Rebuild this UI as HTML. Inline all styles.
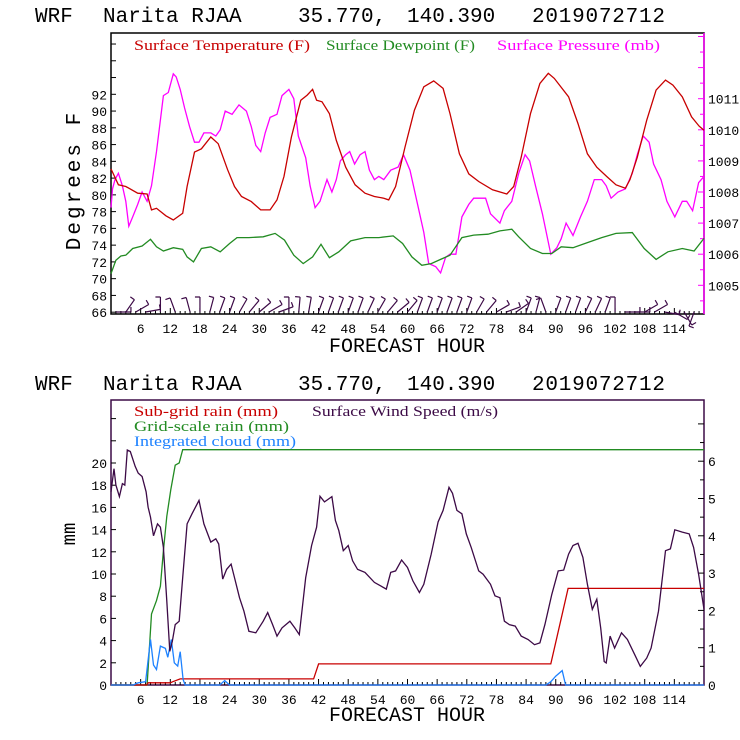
<!DOCTYPE html>
<html><head><meta charset="utf-8"><style>
html,body{margin:0;padding:0;background:#fff;}
svg{display:block;font-family:"Liberation Mono",monospace;}
</style></head><body>
<svg id="c" width="740" height="740" viewBox="0 0 740 740" xmlns="http://www.w3.org/2000/svg">
<g font-size="21" fill="#000">
<text x="35" y="22">WRF</text><text x="103" y="22">Narita RJAA</text><text x="298" y="22">35.770,</text><text x="407" y="22">140.390</text><text x="532" y="22" textLength="133" lengthAdjust="spacing">2019072712</text>
</g>
<g font-size="21" fill="#000">
<text x="35" y="390">WRF</text><text x="103" y="390">Narita RJAA</text><text x="298" y="390">35.770,</text><text x="407" y="390">140.390</text><text x="532" y="390" textLength="133" lengthAdjust="spacing">2019072712</text>
</g>
<g id="topPanel"></g>
<g id="botPanel"></g>
</svg>
<script>
// ---- top chart data ----
const tempHours=[0,1.5,3,5.4,7.3,8.2,9.2,11.1,12.6,14.5,15.4,16.9,18.3,20.2,21.7,23.6,25,26.4,28.4,30.3,32.2,33.6,35,36.5,38.4,39.7,40.8,41.6,42.7,44.2,45.6,47.5,49.4,51.4,53.3,55.2,56.2,57.6,59.5,61.4,63.3,65.3,67.2,68.6,70.5,72.4,74.4,77.2,80.1,81.5,83,84.9,86.8,88.5,89.7,92.6,94.5,96.4,98.3,100.3,102.2,104.1,105,106.5,108.4,110.3,112.2,113.7,115.6,117.5,119,120];
const tempValues=[83.1,81.2,81,80.2,80.1,78.2,78.4,77.5,77,77.8,81,85.1,85.5,86.9,86.1,83,81,79.8,79.2,78.2,78.2,79.4,82.2,86.9,91.3,91.9,92.6,91.3,91.1,89.7,86.5,83.3,81.2,80.2,79.8,79.6,79.4,81,85.7,90.1,92.9,93.6,92.7,89.7,84.9,82.5,81.6,80.6,80.1,81,84.5,89.7,93.3,94.5,93.9,91.7,88.5,84.9,83.3,82.2,81.2,80.8,81.8,84.5,88.9,92.5,93.7,93.1,91.7,89.3,88.2,87.7];
const dewHours=[0,1,2,3,4.4,6.3,8,9.2,10.6,12.6,14.5,15.4,16.7,18.3,20.2,22.1,24,25.5,27.9,30.8,33.2,35.1,37,38.9,40.8,42.5,44.2,46.1,48.5,51.4,54.2,57.1,59,60.9,62.9,64.8,66.7,68.6,71,73.4,76.3,78.7,81.1,82.5,84.9,87.3,89.2,91.1,93.5,96.4,99.3,102.2,105.5,107.9,110.3,112.7,115.6,118,120];
const dewValues=[70.6,72.2,72.7,72.8,73.6,73.9,74.7,73.8,73.3,73.7,73.5,72.6,72,73.6,73.8,73.2,74.2,74.9,74.9,75,75.4,74.6,72.8,71.8,72.6,74.1,72.5,73.2,74.5,74.9,74.9,75.1,74.2,72.6,71.6,71.8,72.3,72.8,74.9,75.2,75.3,75.7,75.9,75,73.6,73,73,73.8,73.7,74.3,74.9,75.4,75.5,73.6,72.3,73.2,73.6,73.3,74.8];
const presHours=[0,0.3,0.8,1.5,2.3,3,3.6,4.4,5.4,6.3,7.3,8.2,9.2,10.6,11.6,12.6,13.2,14,14.9,15.9,16.9,17.8,18.8,20.2,21.2,22.1,23.1,24.5,25.9,27.4,28.4,29.3,30.3,31.2,32.2,33.6,34.6,36,37,37.9,39.4,40.3,41.3,42.3,43.7,44.7,45.6,46.4,47.5,48.3,49.3,50.4,51.4,52.3,53.3,54.2,55.2,56.6,58.1,59.2,60.5,61.9,63.3,64.3,65.7,66.7,67.7,68.6,69.8,71,72.4,73.4,75.8,76.8,78.7,79.6,81.1,82.5,83.8,84.7,85.9,87.3,89,90.2,91.1,92.1,93.5,95,96.4,97.8,99.3,100.2,101.2,102.6,104.1,105.5,106.5,107.7,108.9,109.8,111.3,112.5,114.1,115.6,116.5,117.7,118.9,120];
const presValues=[1007.5,1008.1,1008.4,1008.6,1008.2,1007.7,1006.9,1007.2,1007.6,1008,1007.7,1008.2,1009.3,1011.1,1011.2,1011.8,1011.7,1011.3,1010.7,1010.1,1009.6,1009.6,1009.9,1009.9,1009.8,1010,1010.6,1010.5,1010.8,1010.6,1010.1,1009.5,1009.3,1009.9,1010.4,1010.5,1011.1,1011.3,1011,1009.8,1009.1,1008.2,1007.5,1007.7,1008.4,1008,1008.4,1009,1009.2,1009.3,1008.9,1009.2,1009.3,1008.7,1008.4,1008.5,1008.4,1008.7,1008.8,1009.2,1008.7,1007.7,1006.7,1005.7,1005.6,1005.4,1005.9,1006,1006,1007.2,1007.6,1007.8,1007.8,1007.3,1007,1007.4,1007.7,1008.6,1009.2,1009,1008.2,1007.3,1006,1006.2,1006.5,1007,1006.6,1007.2,1007.7,1008.4,1008.4,1008.2,1007.8,1008,1008.1,1008.6,1009.2,1009.8,1009.6,1008.9,1008.4,1007.7,1007.2,1007.7,1007.7,1007.4,1008.3,1008.5];
const barbHours=[1,3,5,7,10,13,16,18,20,22,24,26,28,30,32,34,36,38,40,42,44,46,48,50,52,54,56,58,60,62,64,66,68,70,72,74,76,78,80,82,84,86,88,90,92,94,96,98,100,102,104,106,108,110,112,114,116,118];
const barbAngles=[90,35,60,80,0,-20,-15,0,15,20,20,30,40,50,60,70,0,5,10,20,20,20,20,20,25,30,40,50,40,20,20,20,20,20,20,30,40,60,70,55,20,15,-20,20,20,20,25,25,20,0,90,90,60,60,100,120,150,-160];
const xTicksLbl=[6,12,18,24,30,36,42,48,54,60,66,72,78,84,90,96,102,108,114];
const tempTicks=[66,68,70,72,74,76,78,80,82,84,86,88,90,92];
const presTicks=[1005,1006,1007,1008,1009,1010,1011];
// ---- bottom chart data ----
const windHours=[0,0.6,1,1.7,2.3,2.8,3.3,3.9,4.9,5.5,6.3,7.1,7.5,8,8.6,9.4,10,10.6,11.3,11.9,12.4,13,13.8,14.5,15.4,16.4,17.8,18.8,20.2,21.2,21.8,22.6,23.4,24.3,25,26,26.9,27.9,29.3,30.8,31.7,32.7,33.6,34.6,36.2,37.2,38.1,39.4,40.6,41.6,42.3,43.2,44.7,45.4,46.1,47,48,48.9,49.9,51.4,53.3,55.7,56.6,57.6,58.8,60,61.1,62.4,63.3,64.8,66.2,67.2,68.4,69.1,70,71,71.9,72.9,74.4,75.3,76.8,77.7,78.7,79.6,80.6,81.8,83,84.4,85.7,86.8,87.8,89.2,90.5,91.6,92.6,93.5,94.5,95.5,96.4,97.4,98.3,99.1,99.8,100.2,101,101.9,103.3,104.5,106,107.1,108.4,109.3,110.8,112.2,113.2,114.1,115.6,117,117.9,118.9,120];
const windValues=[5.18,5.8,5.36,5.05,5.4,5.36,6.3,6.26,5.86,5.68,5.59,5.18,4.77,4.5,4,4.32,4.23,3.69,2.25,0.9,1.17,1.62,1.71,2.88,4.32,4.59,4.95,4.32,3.83,3.92,3.78,2.84,3.1,3.24,2.88,2.34,1.98,1.44,1.4,1.71,1.94,1.62,1.31,1.53,1.71,1.53,1.35,2.88,3.74,4.23,5.06,4.91,5.05,4.41,4.14,3.6,3.74,3.33,3.1,3.02,2.75,2.57,3.02,3.06,3.35,3.15,2.79,2.48,2.7,3.51,4.37,4.68,5.3,5.14,4.68,4.59,4.05,3.69,3.06,2.97,2.7,2.39,2.34,1.71,1.62,1.58,1.31,1.22,1.08,1.13,1.62,2.43,3.06,3.08,3.51,3.74,3.8,3.42,2.7,2.03,2.3,1.53,0.63,0.59,1.31,0.99,1.4,1.22,0.81,0.5,0.72,0.99,1.98,3.6,3.65,4.16,4.1,4.05,3.69,2.97,2.03];
const gridHours=[0,7.3,8.2,9.2,10,10.6,11.3,12.1,13,13.8,14.5,120];
const gridValues=[0,0,6.4,7.6,8.9,12.1,15.2,17.6,19.8,20,21.2,21.2];
const subHours=[0,7.2,7.5,12,12.5,14,41,42,89,92.5,120];
const subValues=[0,0,0.2,0.2,0.3,0.55,0.55,1.9,1.9,8.7,8.7];
const cloudHours=[0,4.5,5.5,7,8,8.6,9.2,10,11,11.5,12.2,12.8,13.5,14,14.6,15,22,23,24,88,89,90,91.3,92,120];
const cloudValues=[0,0,0.2,0.3,4.1,1.8,1.4,3.5,3.3,2.5,4.1,2.0,1.7,3.0,0.5,0,0,0.4,0,0,0.3,0.8,1.3,0,0];
const mmTicks=[0,2,4,6,8,10,12,14,16,18,20];
const windTicks=[0,1,2,3,4,5,6];

const NS="http://www.w3.org/2000/svg";
const X0=111,X1=704;
const xs=h=>X0+h*(X1-X0)/120;
const yT=t=>94.3+(92-t)*8.38;
const yP=p=>98.7+(1011-p)*31.1;
const yMM=m=>685-m*11.1;
const yW=w=>685-w*37.3;
function mk(tag,attrs,parent){const el=document.createElementNS(NS,tag);for(const k in attrs)el.setAttribute(k,attrs[k]);parent.appendChild(el);return el;}
function line(hs,vs,fx,fy){return hs.map((h,i)=>(i?'L':'M')+fx(h).toFixed(1)+','+fy(vs[i]).toFixed(1)).join('');}
const topG=document.getElementById('topPanel'),botG=document.getElementById('botPanel');
let e;

// TOP panel
e=mk('rect',{x:X0,y:33,width:X1-X0,height:281,fill:'none',stroke:'#000','stroke-width':1.5},topG);


e=mk('line',{x1:X1,y1:33,x2:X1,y2:314,stroke:'#ff00ff','stroke-width':1.5},topG);


for(let t=66;t<=98;t+=2){e=mk('line',{x1:X0,x2:X0+5,y1:yT(t),y2:yT(t),stroke:'#000'},topG);

}
tempTicks.forEach(t=>{e=mk('text',{x:X0-4,y:yT(t)+5,'text-anchor':'end','font-size':13},topG);e.textContent=t;

});
for(let p=1004.5;p<=1013;p+=0.5){const y=yP(p);if(y<34||y>313)continue;e=mk('line',{x1:X1-(p%1?4:6),x2:X1,y1:y,y2:y,stroke:'#ff00ff'},topG);

}
presTicks.forEach(p=>{e=mk('text',{x:X1+4,y:yP(p)+5,'font-size':13},topG);e.textContent=p;

});
function xticks(g,yb){for(let h=1;h<120;h++){e=mk('line',{x1:xs(h),x2:xs(h),y1:yb,y2:yb-(h%6?3:6),stroke:'#000'},g);

}
xTicksLbl.forEach(h=>{e=mk('text',{x:xs(h),y:yb+19,'text-anchor':'middle','font-size':13},g);e.textContent=h;

});}
xticks(topG,314);
e=mk('text',{x:407,y:352,'text-anchor':'middle','font-size':20},topG);e.textContent='FORECAST HOUR';


e=mk('text',{x:80,y:180,'text-anchor':'middle','font-size':21,transform:'rotate(-90 80 180)','letter-spacing':3},topG);e.textContent='Degrees F';


barbHours.forEach((h,i)=>{const a=barbAngles[i]*Math.PI/180,x=xs(h),y=312,L=15;
const x2=x+L*Math.sin(a),y2=y-L*Math.cos(a);
e=mk('path',{d:`M${x},${y}L${x2},${y2}M${x2},${y2}l${-5*Math.cos(a)},${-5*Math.sin(a)}`,stroke:'#3c0a46',fill:'none','stroke-width':1.2},topG);

});
e=mk('path',{d:line(presHours,presValues,xs,yP),stroke:'#ff00ff',fill:'none','stroke-width':1.3},topG);


e=mk('path',{d:line(dewHours,dewValues,xs,yT),stroke:'#228b22',fill:'none','stroke-width':1.3},topG);


e=mk('path',{d:line(tempHours,tempValues,xs,yT),stroke:'#c80000',fill:'none','stroke-width':1.3},topG);


[['Surface Temperature (F)','#c80000',134,176,'legend-temperature'],['Surface Dewpoint (F)','#228b22',326,149,'legend-dewpoint'],['Surface Pressure (mb)','#ff00ff',497,163,'legend-pressure']].forEach(l=>{
e=mk('text',{x:l[2],y:50,fill:l[1],'font-size':15,textLength:l[3],lengthAdjust:'spacingAndGlyphs','font-family':'Liberation Serif, serif'},topG);e.textContent=l[0];

});

// BOTTOM panel
e=mk('rect',{x:X0,y:400,width:X1-X0,height:285,fill:'none',stroke:'#3c0a46','stroke-width':1.5},botG);


for(let m=0;m<=24;m+=2){e=mk('line',{x1:X0,x2:X0+5,y1:yMM(m),y2:yMM(m),stroke:'#000'},botG);

}
mmTicks.forEach(m=>{e=mk('text',{x:X0-4,y:yMM(m)+5,'text-anchor':'end','font-size':13},botG);e.textContent=m;

});
for(let w=0.5;w<7.5;w+=0.5){e=mk('line',{x1:X1-(w%1?4:6),x2:X1,y1:yW(w),y2:yW(w),stroke:'#000'},botG);

}
windTicks.forEach(w=>{e=mk('text',{x:X1+4,y:yW(w)+5,'font-size':13},botG);e.textContent=w;

});
xticks(botG,685);
e=mk('text',{x:407,y:721,'text-anchor':'middle','font-size':20},botG);e.textContent='FORECAST HOUR';


e=mk('text',{x:75,y:534,'text-anchor':'middle','font-size':19,transform:'rotate(-90 75 534)'},botG);e.textContent='mm';


e=mk('path',{d:line(gridHours,gridValues,xs,yMM),stroke:'#228b22',fill:'none','stroke-width':1.3},botG);


e=mk('path',{d:line(subHours,subValues,xs,yMM),stroke:'#c80000',fill:'none','stroke-width':1.3},botG);


e=mk('path',{d:line(cloudHours,cloudValues,xs,yMM),stroke:'#1e82ff',fill:'none','stroke-width':1.3},botG);


e=mk('path',{d:line(windHours,windValues,xs,yW),stroke:'#3c0a46',fill:'none','stroke-width':1.3},botG);


[['Sub-grid rain (mm)','#c80000',134,416,144,'legend-sub-grid-rain'],['Surface Wind Speed (m/s)','#3c0a46',312,416,186,'legend-wind-speed'],['Grid-scale rain (mm)','#228b22',134,431,155,'legend-grid-scale-rain'],['Integrated cloud (mm)','#1e82ff',134,446,162,'legend-integrated-cloud']].forEach(l=>{
e=mk('text',{x:l[2],y:l[3],fill:l[1],'font-size':15,textLength:l[4],lengthAdjust:'spacingAndGlyphs','font-family':'Liberation Serif, serif'},botG);e.textContent=l[0];

});
</script>
</body></html>
